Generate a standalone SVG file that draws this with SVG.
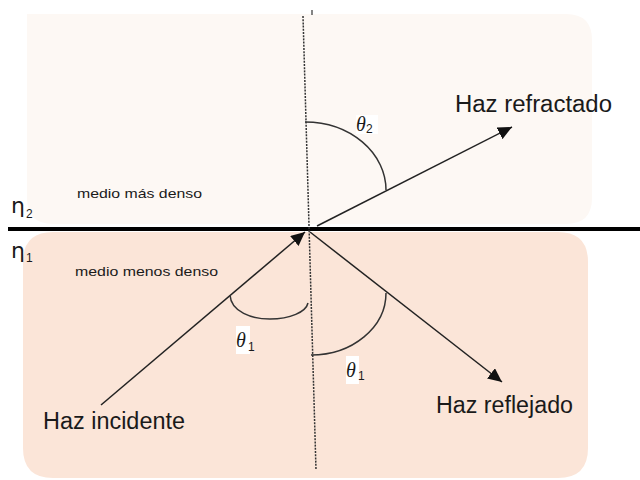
<svg xmlns="http://www.w3.org/2000/svg" width="640" height="480" viewBox="0 0 640 480">
<defs>
<style>
.lbl{font-family:"Liberation Sans",Arial,sans-serif;font-size:23px;fill:#1a1a1a}
.med{font-family:"Liberation Sans",Arial,sans-serif;font-size:13.5px;fill:#1a1a1a}
.eta{font-family:"DejaVu Sans","Liberation Sans",sans-serif;font-size:22px;fill:#1a1a1a}
.sub{font-family:"Liberation Sans",Arial,sans-serif;font-size:12px;fill:#1a1a1a}
.th{font-family:"Liberation Serif","Times New Roman",serif;font-style:italic;font-size:20px;fill:#1a1a1a}
.ray{stroke:#222;stroke-width:1.5;fill:none}
.arc{stroke:#333;stroke-width:1.5;fill:none}
.norm{stroke:#333;stroke-width:1.5;stroke-dasharray:2 1.2;fill:none}
</style>
<marker id="ah" markerUnits="userSpaceOnUse" markerWidth="15" markerHeight="13" refX="14" refY="6.5" orient="auto">
<path d="M0,0 L14,6.5 L0,13 Z" fill="#111"/>
</marker>
</defs>
<g id="medio-denso">
<path d="M27,14 H566 Q592,14 592,40 V198 Q592,224 566,224 H53 Q27,224 27,198 Z" fill="#fdf8f4"/>
<text class="med" x="77" y="198" textLength="125" lengthAdjust="spacingAndGlyphs">medio más denso</text>
</g>
<g id="medio-menos-denso">
<path d="M53,232 H558 Q588,232 588,262 V448 Q588,478 558,478 H53 Q23,478 23,448 V262 Q23,232 53,232 Z" fill="#fbe5d8"/>
<text class="med" x="75" y="276" textLength="143" lengthAdjust="spacingAndGlyphs">medio menos denso</text>
</g>
<g id="interfaz">
<line x1="8" y1="229" x2="640" y2="229" stroke="#000" stroke-width="4"/>
<text class="eta" x="11" y="213">η</text><text class="sub" x="26" y="218">2</text>
<text class="eta" x="11" y="258">η</text><text class="sub" x="26" y="262">1</text>
</g>
<g id="normal">
<line class="norm" x1="303" y1="16" x2="316" y2="470"/>
<line x1="312" y1="10" x2="312" y2="15" stroke="#333" stroke-width="1.2"/>
</g>
<g id="connectors">
<line class="ray" x1="101" y1="405" x2="305" y2="232" marker-end="url(#ah)"/>
<line class="ray" x1="317" y1="226" x2="512" y2="127" marker-end="url(#ah)"/>
<line class="ray" x1="310" y1="232" x2="502" y2="382" marker-end="url(#ah)"/>
</g>
<g id="angulos">
<path class="arc" d="M305,122 A81,68 0 0 1 386,190"/>
<path class="arc" d="M230,295 C231,312 252,319 270,319 C290,319 306,312 308,303"/>
<path class="arc" d="M386,293 A75,62 0 0 1 311,355"/>
<rect x="356" y="115" width="22" height="19" fill="#fff"/>
<text class="th" x="356" y="131">θ</text><text class="sub" x="366" y="133">2</text>
<rect x="236" y="326" width="14" height="28" fill="#fff"/>
<text class="th" x="236" y="347">θ</text><text class="sub" x="248" y="351">1</text>
<rect x="346" y="356" width="13" height="28" fill="#fff"/>
<text class="th" x="346" y="377">θ</text><text class="sub" x="358" y="380">1</text>
</g>
<g id="etiquetas">
<text class="lbl" x="455" y="112" textLength="157" lengthAdjust="spacingAndGlyphs">Haz refractado</text>
<text class="lbl" x="43" y="429" textLength="142" lengthAdjust="spacingAndGlyphs">Haz incidente</text>
<text class="lbl" x="436" y="413" textLength="137" lengthAdjust="spacingAndGlyphs">Haz reflejado</text>
</g>
</svg>
